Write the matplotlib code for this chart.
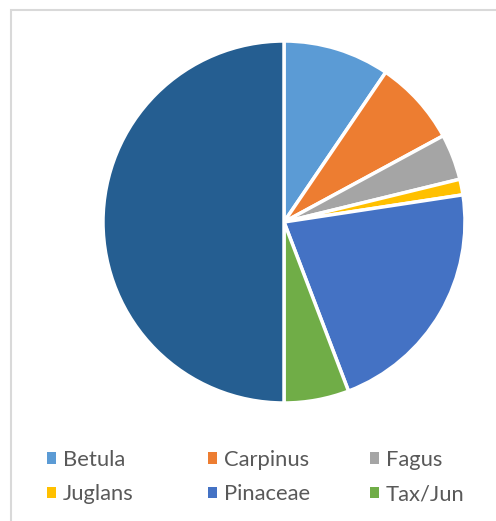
import matplotlib.pyplot as plt
from matplotlib.patches import Patch, Rectangle

labels = ["Betula", "Carpinus", "Fagus", "Juglans", "Pinaceae", "Tax/Jun", "Other"]
values = [9.5, 7.6, 4.1, 1.4, 21.6, 5.8, 50.0]
colors = ["#5B9BD5", "#ED7D31", "#A5A5A5", "#FFC000", "#4472C4", "#70AD47", "#255E91"]

W, H = 496, 521
fig = plt.figure(figsize=(W / 100, H / 100), dpi=100)

# chart border (runs off the right and bottom edges)
fig.patches.append(Rectangle((11 / W, -0.1), 1.0, 1 - 10 / H + 0.1, transform=fig.transFigure,
                             fill=False, edgecolor="#D9D9D9", linewidth=1.5))

ax = fig.add_axes([103 / W, (H - 403) / H, 362 / W, 362 / H])
ax.pie(values, colors=colors, startangle=90, counterclock=False,
       wedgeprops=dict(edgecolor="white", linewidth=2.5))
ax.set_xlim(-1, 1)
ax.set_ylim(-1, 1)

# legend, three columns of two rows
col_x = [47, 208, 370]
for i in range(3):
    idx = [i, i + 3]
    handles = [Patch(facecolor=colors[j], edgecolor="none") for j in idx]
    leg = fig.legend(handles, [labels[j] for j in idx], loc="center left",
                     bbox_to_anchor=(col_x[i] / W, 1 - 477 / H), frameon=False,
                     borderpad=0, borderaxespad=0, handlelength=0.42, handleheight=0.42,
                     handletextpad=0.3, labelspacing=0.65,
                     prop={"family": "Lato", "size": 15.8})
    for t in leg.get_texts():
        t.set_color("#595959")

fig.savefig("out.png", dpi=100)
